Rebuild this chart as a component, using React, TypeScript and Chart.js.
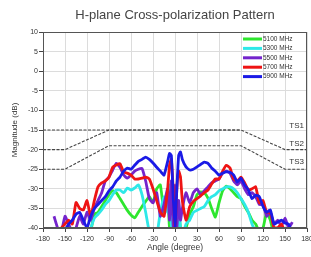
import React, { useEffect, useRef } from "react";
import { Chart, registerables } from "chart.js";

Chart.register(...registerables);

const angles = [
  -165, -160, -155, -150, -145, -140, -135, -130, -125, -120, -115, -110, -105, -100, -95, -90,
  -85, -80, -75, -70, -65, -60, -55, -50, -45, -40, -35, -30, -25, -20, -15,
  -10, -7.5, -5, -2.5, 0, 2.5, 5, 7.5, 10,
  15, 20, 25, 30, 35, 40, 45, 50, 55, 60, 65, 70, 75, 80, 85, 90, 95, 100, 105, 110,
  115, 120, 125, 130, 135, 140, 145, 150, 155, 160,
];

const s5100 = [
  -45, -45, -45, -45, -45, -45, -45, -45, -45, -44, -41, -36.5, -36, -34.5, -33, -31.5,
  -30.5, -31, -32.5, -34, -35.5, -36.7, -37.4, -36, -34.5, -33.2, -32, -33.5, -30, -29, -36,
  -32, -40, -34, -40, -33, -41, -36, -40, -42,
  -40, -36.5, -34.6, -31.5, -30.8, -31, -32.4, -35, -37.2, -33.6, -30.5, -29.3, -30, -31, -32, -32.5, -34.5, -36, -38, -39,
  -41, -40, -36, -38, -42, -44, -45, -45, -45, -45,
];

const s5300 = [
  -45, -45, -44, -43, -42, -42, -43, -41, -42, -41, -40, -37.5, -36.5, -35.4, -34, -33,
  -31.5, -30.3, -30.3, -31, -29.8, -30.3, -29.8, -29, -31.5, -36, -41, -43, -42, -36, -32,
  -36, -29, -40, -29.5, -40, -42, -34, -40, -42,
  -39, -38, -36, -35.5, -35, -34.5, -33, -32, -31.5, -30.5, -30, -29.5, -29.5, -30, -31, -32.5, -34, -36, -39, -41,
  -44, -45, -45, -45, -45, -45, -45, -45, -45, -45,
];

const s5500 = [
  -37, -40, -41, -37, -39, -41, -40, -37, -39, -36, -38, -35, -33, -31, -28, -27,
  -25.2, -23.5, -24.5, -26.5, -27.3, -26.5, -25.5, -25, -24.8, -28, -32.5, -33.6, -31, -37, -34,
  -30, -38, -28, -40, -29, -40, -33, -38, -35,
  -31, -33.6, -31, -30, -31.5, -30.5, -29.5, -28.5, -28, -27.5, -26, -25.5, -26, -28, -29, -28, -30, -31.5, -31, -32,
  -34, -34, -37, -36, -39, -38, -39.5, -37.5, -40, -38.5,
];

const s5700 = [
  -44, -42, -40, -39, -38, -39, -33.5, -35, -35.4, -33, -37, -33, -29.5, -28.5, -28, -27,
  -24.5, -23.9, -23.6, -25.7, -26, -26.5, -27.5, -27.5, -27.3, -27, -27.5, -30, -33, -36, -37,
  -30, -24, -22.5, -30, -40, -30, -25.5, -27, -33,
  -38, -34.6, -33.2, -32.5, -31.8, -31, -30.3, -28.8, -27.5, -27.5, -25.5, -24, -24.7, -27.5, -28, -27, -28.5, -30.3, -30, -29.5,
  -33.6, -33, -36, -36, -40, -40, -39, -41, -42, -44,
];

const s5900 = [
  -44, -42, -41, -40.5, -39, -38, -36.5, -36, -38, -40, -37, -35, -34, -33, -32, -30.5,
  -29.5, -28, -27, -25.5, -24.7, -25, -24, -23, -22.5, -21.9, -22.5, -23.4, -24.5, -25.5, -26.5,
  -23, -21, -21.5, -32, -40, -30, -21.5, -20.6, -22.5,
  -24.4, -25.2, -25, -24.4, -23.8, -23.2, -23.5, -24.7, -25.5, -26.5, -26, -25.7, -25.8, -26.5, -28.3, -27.3, -29, -30.3, -32.5, -31.6,
  -32, -34.5, -36, -35.4, -39, -38.5, -38, -38.7, -39, -42,
];

const seriesLabels = ["5100 MHz", "5300 MHz", "5500 MHz", "5700 MHz", "5900 MHz"];
const seriesColors = ["#2ee62e", "#2ee8e8", "#7424cc", "#ee1414", "#1a1ae6"];

const tsAngles = [-180, -150, -90, 90, 150, 180];
const ts1Angles = [-180, 90];
const ts1Values = [-15, -15];
const ts2Values = [-20, -20, -15, -15, -20, -20];
const ts3Values = [-25, -25, -19, -19, -25, -25];
const tsLabels = ["TS1", "TS2", "TS3"];
const tsLabelValues = [-14, -18.5, -23];

const xTicks = [-180, -150, -120, -90, -60, -30, 0, 30, 60, 90, 120, 150, 180];

const FONT = "'Liberation Sans', Arial, sans-serif";

const toPoints = (xs: number[], ys: number[]) => xs.map((x, i) => ({ x, y: ys[i] }));

export default function App() {
  const ref = useRef<HTMLCanvasElement>(null);

  useEffect(() => {
    document.body.style.margin = "0";
    const canvas = ref.current;
    if (!canvas) return;

    const seriesData = [s5100, s5300, s5500, s5700, s5900];

    const frame = {
      id: "frame",
      afterDraw(chart: any) {
        const { ctx, chartArea: a } = chart;
        ctx.save();
        ctx.strokeStyle = "#555";
        ctx.lineWidth = 1;
        ctx.strokeRect(a.left + 0.5, a.top + 0.5, a.right - a.left - 1, a.bottom - a.top - 1);
        // legend
        ctx.font = `6.5px ${FONT}`;
        ctx.textBaseline = "middle";
        ctx.textAlign = "left";
        seriesLabels.forEach((lab, i) => {
          const y = a.top + 7 + i * 9.4;
          ctx.strokeStyle = seriesColors[i];
          ctx.lineWidth = 3;
          ctx.beginPath();
          ctx.moveTo(a.right - 64, y);
          ctx.lineTo(a.right - 45, y);
          ctx.stroke();
          ctx.fillStyle = "#333";
          ctx.fillText(lab, a.right - 44, y);
        });
        // TS labels
        ctx.font = `8px ${FONT}`;
        ctx.textAlign = "right";
        ctx.textBaseline = "middle";
        ctx.fillStyle = "#333";
        const ys = chart.scales.y;
        tsLabels.forEach((t, i) => {
          ctx.fillText(t, a.right - 3, ys.getPixelForValue(tsLabelValues[i]));
        });
        ctx.restore();
      },
    };

    const datasets: any[] = seriesLabels.map((lab, i) => ({
      label: lab,
      data: toPoints(angles, seriesData[i]),
      borderColor: seriesColors[i],
      backgroundColor: seriesColors[i],
      borderWidth: 2.8,
      pointRadius: 0,
      tension: 0.15,
      fill: false,
      order: 5 - i,
    }));

    const tsStyle = {
      borderColor: "#444",
      borderWidth: 1.1,
      borderDash: [3, 1.5],
      pointRadius: 0,
      tension: 0,
      fill: false,
      order: 0,
    };
    datasets.push({ label: "TS1", data: toPoints(ts1Angles, ts1Values), ...tsStyle });
    datasets.push({ label: "TS2", data: toPoints(tsAngles, ts2Values), ...tsStyle });
    datasets.push({ label: "TS3", data: toPoints(tsAngles, ts3Values), ...tsStyle });

    const chart = new Chart(canvas, {
      type: "line",
      data: { datasets },
      options: {
        responsive: false,
        animation: false,
        layout: { padding: { left: 0, right: 4, top: 0, bottom: 0 } },
        plugins: {
          legend: { display: false },
          tooltip: { enabled: false },
          title: {
            display: true,
            text: "H-plane Cross-polarization Pattern",
            fullSize: false,
            color: "#444",
            font: { family: FONT, size: 13, weight: "normal" },
            padding: { top: 8, bottom: 8.4 },
          },
        },
        scales: {
          x: {
            type: "linear",
            min: -180,
            max: 180,
            afterBuildTicks: (s: any) => {
              s.ticks = xTicks.map((v) => ({ value: v }));
            },
            afterFit: (s: any) => {
              s.height = 29;
              s.paddingLeft = 0;
              s.paddingRight = 0;
            },
            ticks: {
              autoSkip: false,
              maxRotation: 0,
              color: "#333",
              padding: 3,
              font: { family: FONT, size: 7 },
            },
            grid: { color: "#dcdcdc", tickColor: "#444", tickLength: 4 },
            border: { color: "#555" },
            title: {
              display: true,
              text: "Angle (degree)",
              color: "#333",
              font: { family: FONT, size: 8.5 },
              padding: { top: 0, bottom: 4 },
            },
          },
          y: {
            type: "linear",
            min: -40,
            max: 10,
            afterFit: (s: any) => {
              s.width = 43;
            },
            ticks: {
              stepSize: 5,
              color: "#333",
              padding: 1,
              font: { family: FONT, size: 7 },
            },
            grid: { color: "#dcdcdc", tickColor: "#444", tickLength: 4 },
            border: { color: "#555" },
            title: {
              display: true,
              text: "Magnitude (dB)",
              color: "#333",
              font: { family: FONT, size: 8 },
              padding: { top: 10, bottom: 0 },
            },
          },
        },
      },
      plugins: [frame],
    });

    return () => chart.destroy();
  }, []);

  return (
    <div style={{ width: 311, height: 257, background: "#fff" }}>
      <canvas ref={ref} width={311} height={257} style={{ display: "block" }} />
    </div>
  );
}
